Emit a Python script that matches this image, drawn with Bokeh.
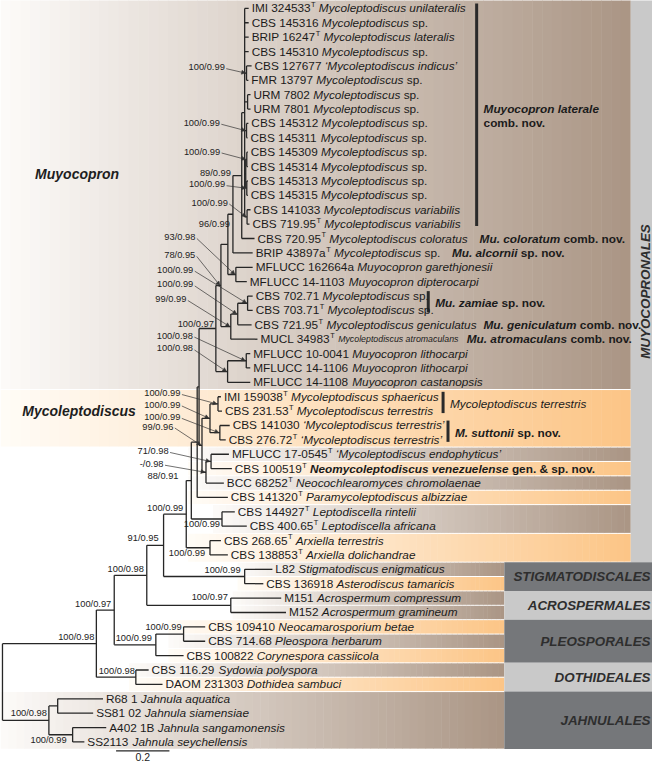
import numpy as np
from bokeh.plotting import figure
from bokeh.models import Range1d, ColumnDataSource, Arrow, NormalHead
from bokeh.core.properties import value, field
from bokeh.embed import file_html
from bokeh.resources import INLINE

# ======================= DATA =======================
strains = [
    "IMI 324533", "CBS 145316", "BRIP 16247", "CBS 145310", "CBS 127677", "FMR 13797",
    "URM 7802", "URM 7801", "CBS 145312", "CBS 145311", "CBS 145309", "CBS 145314",
    "CBS 145313", "CBS 145315", "CBS 141033", "CBS 719.95", "CBS 720.95", "BRIP 43897a",
    "MFLUCC 162664a", "MFLUCC 14-1103", "CBS 702.71", "CBS 703.71", "CBS 721.95", "MUCL 34983",
    "MFLUCC 10-0041", "MFLUCC 14-1106", "MFLUCC 14-1108", "IMI 159038", "CBS 231.53",
    "CBS 141030", "CBS 276.72", "MFLUCC 17-0545", "CBS 100519", "BCC 68252", "CBS 141320",
    "CBS 144927", "CBS 400.65", "CBS 268.65", "CBS 138853", "L82", "CBS 136918", "M151", "M152",
    "CBS 109410", "CBS 714.68", "CBS 100822", "CBS 116.29", "DAOM 231303", "R68 1", "SS81 02",
    "A402 1B", "SS2113"]
ex_type = [1, 0, 1, 0, 0, 0, 0, 0, 0, 0, 0, 0, 0, 0, 0, 1, 1, 1, 0, 0, 0, 1, 1, 1, 0, 0,
           0, 1, 1, 0, 1, 1, 1, 1, 1, 1, 1, 1, 1, 0, 0, 0, 0, 0, 0, 0, 0, 0, 0, 0, 0, 0]
species = [
    "Mycoleptodiscus unilateralis", "Mycoleptodiscus", "Mycoleptodiscus lateralis",
    "Mycoleptodiscus", "\u2018Mycoleptodiscus indicus\u2019", "Mycoleptodiscus",
    "Mycoleptodiscus", "Mycoleptodiscus", "Mycoleptodiscus", "Mycoleptodiscus",
    "Mycoleptodiscus", "Mycoleptodiscus", "Mycoleptodiscus", "Mycoleptodiscus",
    "Mycoleptodiscus variabilis", "Mycoleptodiscus variabilis", "Mycoleptodiscus coloratus",
    "Mycoleptodiscus", "Muyocopron garethjonesii", "Muyocopron dipterocarpi",
    "Mycoleptodiscus", "Mycoleptodiscus", "Mycoleptodiscus geniculatus",
    "Mycoleptodiscus atromaculans", "Muyocopron lithocarpi", "Muyocopron lithocarpi",
    "Muyocopron castanopsis", "Mycoleptodiscus sphaericus", "Mycoleptodiscus terrestris",
    "\u2018Mycoleptodiscus terrestris\u2019", "\u2018Mycoleptodiscus terrestris\u2019",
    "\u2018Mycoleptodiscus endophyticus\u2019", "Neomycoleptodiscus venezuelense",
    "Neocochlearomyces chromolaenae", "Paramycoleptodiscus albizziae",
    "Leptodiscella rintelii", "Leptodiscella africana", "Arxiella terrestris",
    "Arxiella dolichandrae", "Stigmatodiscus enigmaticus", "Asterodiscus tamaricis",
    "Acrospermum compressum", "Acrospermum gramineum", "Neocamarosporium betae",
    "Pleospora herbarum", "Corynespora cassiicola", "Sydowia polyspora", "Dothidea sambuci",
    "Jahnula aquatica", "Jahnula siamensiae", "Jahnula sangamonensis", "Jahnula seychellensis"]
sp_rows = [1, 3, 5, 6, 7, 8, 9, 10, 11, 12, 13, 17, 20, 21]

leaf_parent = ["L", "L", "L", "L", "L1", "L1", "L2", "L2", "L3", "L3", "L4", "L4", "L5", "L5",
               "L6", "L6", "N6", "N7", "GD", "GD", "ZA", "ZA", "ZG", "ZGM", "LI2", "LI2", "LI",
               "MT", "MT", "MS", "MS", "NN", "NN", "NB", "P3", "LE", "LE", "AR", "AR", "ST", "ST",
               "AC", "AC", "PL2", "PL2", "PL", "DO", "DO", "J1", "J1", "J2", "J2"]
leaf_length = [0.015, 0.015, 0.015, 0.015, 0.019, 0.007, 0.011, 0.011, 0.007, 0.004, 0.004,
               0.004, 0.004, 0.004, 0.013, 0.009, 0.048, 0.074, 0.063, 0.041, 0.019, 0.019,
               0.052, 0.100, 0.015, 0.015, 0.085, 0.011, 0.015, 0.037, 0.022, 0.067, 0.078,
               0.067, 0.115, 0.048, 0.093, 0.041, 0.067, 0.104, 0.070, 0.189, 0.207, 0.081,
               0.081, 0.104, 0.048, 0.100, 0.170, 0.133, 0.126, 0.044]

node_name = ["R", "J", "J1", "J2", "D", "DO", "N115", "PL", "PL2", "N148", "AC", "N165", "ST",
             "P5", "AR", "P4", "LE", "P3", "P1", "P2", "MY2", "MT", "MS", "NB", "NN", "MY", "LI",
             "LI2", "N9", "ZGM", "ZG", "ZA", "N8", "GD", "N7", "N6", "L", "L1", "L2", "L3", "N3",
             "L4", "L5", "L6"]
node_parent = [None, "R", "J", "J", "R", "D", "D", "N115", "PL", "N115", "N148", "N148", "N165",
               "N165", "P5", "P5", "P4", "P4", "P3", "P1", "P2", "MY2", "MY2", "P2", "NB", "P1",
               "MY", "LI", "MY", "N9", "ZGM", "ZG", "N9", "N8", "N8", "N7", "N6", "L", "L", "L",
               "L", "N3", "N3", "L"]
node_length = [0.0, 0.174, 0.033, 0.089, 0.352, 0.148, 0.067, 0.156, 0.104, 0.122, 0.315, 0.063,
               0.304, 0.085, 0.089, 0.019, 0.115, 0.022, 0.007, 0.011, 0.030, 0.030, 0.037,
               0.015, 0.019, 0.063, 0.044, 0.070, 0.019, 0.037, 0.026, 0.037, 0.026, 0.030,
               0.019, 0.033, 0.011, 0.007, 0.011, 0.007, 0.004, 0.004, 0.004, 0.009]

support_node = ["L1", "L3", "L4", "N3", "L5", "L6", "N6", "GD", "N9", "ZA", "ZG", "ZGM", "MY",
                "LI2", "LI", "MT", "MY2", "MS", "P2", "NN", "NB", "P4", "P5", "LE", "AR", "N165",
                "ST", "AC", "N148", "PL2", "PL", "N115", "DO", "D", "J", "J2"]
support_text = ["100/0.99", "100/0.99", "100/0.99", "89/0.99", "100/0.99", "100/0.99", "96/0.99",
                "93/0.98", "78/0.95", "100/0.99", "100/0.99", "99/0.99", "100/0.97", "100/0.98",
                "100/0.98", "100/0.99", "100/0.99", "100/0.99", "99/0.96", "71/0.98", "-/0.98",
                "88/0.91", "100/0.99", "100/0.99", "100/0.99", "91/0.95", "100/0.99", "100/0.97",
                "100/0.98", "100/0.99", "100/0.99", "100/0.97", "100/0.98", "100/0.98",
                "100/0.98", "100/0.99"]

orders = ["MUYOCOPRONALES", "STIGMATODISCALES", "ACROSPERMALES", "PLEOSPORALES",
          "DOTHIDEALES", "JAHNULALES"]
order_rows = [(0, 38), (39, 40), (41, 42), (43, 45), (46, 47), (48, 51)]

band_rows = [(0, 26), (27, 30), (31, 31), (32, 32), (33, 33), (34, 34), (35, 36), (37, 38),
             (39, 39), (40, 40), (41, 41), (42, 42), (43, 43), (44, 44), (45, 45), (46, 46),
             (47, 47), (48, 51)]
band_kind = ["brown", "orange", "brown", "orange", "brown", "orange", "brown", "orange",
             "brown", "orange", "brown", "brown", "orange", "brown", "orange", "brown",
             "orange", "brown"]

clade_names = ["Muyocopron", "Mycoleptodiscus"]

bar_rows = [(0, 15), (20, 21), (27, 28), (29, 30)]
bar_labels = [
    [[("Muyocopron laterale", "bold italic")], [("comb. nov.", "bold")]],
    [[("Mu. zamiae", "bold italic"), ("sp. nov.", "bold")]],
    [[("Mycoleptodiscus terrestris", "italic")]],
    [[("M. suttonii", "bold italic"), ("sp. nov.", "bold")]],
]
note_rows = [16, 17, 22, 23, 32]
note_segs = [
    [("Mu. coloratum", "bold italic"), ("comb. nov.", "bold")],
    [("Mu. alcornii", "bold italic"), ("sp. nov.", "bold")],
    [("Mu. geniculatum", "bold italic"), ("comb. nov.", "bold")],
    [("Mu. atromaculans", "bold italic"), ("comb. nov.", "bold")],
    [("gen. & sp. nov.", "bold")],
]
scale_len = 0.2
scale_text = "0.2"

# ======================= LAYOUT / STYLE =======================
W, H = 652, 765
XR = (0.0, 660.0)
YR = (781.0, 5.0)
KX = W / (XR[1] - XR[0])
KY = H / (YR[0] - YR[1])
X0, XS = 2.0, 270.0       # root position, px per substitution unit
Y0, YS = 13.0, 14.59      # first row position, row spacing
FONT = value("Liberation Sans")
FS, SUP, SMALL, SFS, OFS = 11.8, 7.4, 8.8, 9.3, 13.4
TXT = "#1b1b1b"
LINE = "#262626"

SUP_LAYOUT = [(-22, -6, 1), (-27, -8, 1), (-27, -8, 1), (-15, -1, 0), (-22, -4, 1),
              (-19.5, -14.6, 1), (-12, 49.4, 0), (-41, -38, 1), (-26, -31, 1), (-55, -34, 1),
              (-45, -30, 1), (-45, -28, 1), (-2, -5, 0), (-54, -25.5, 1), (-35, -23.4, 1),
              (-38, -11, 1), (-30, -14, 1), (-40, -16, 1), (-29, -19, 1), (-43, -10.6, 1),
              (-43, -8.6, 1), (-13, -5, 0), (-3, -6, 0), (-2, 5, 0), (-5, 5, 0), (-5, -7.5, 0),
              (-4, -7, 0), (-3, -8, 0), (-3, -6, 0), (-2, -7.5, 0), (-4, -6.5, 0), (-3, -6, 0),
              (-1, -6.5, 0), (-2, -7, 0), (-2, -7, 0), (-6, 5, 0)]
BAND_X0 = [0, 0, 190, 190, 190, 190, 215, 190, 240, 240, 235, 235, 170, 170, 170, 130, 130, 0]
BAND_COL = {"brown": ((253, 251, 249), (170, 149, 132)),
            "orange": ((255, 252, 247), (252, 197, 134))}
ORDER_COL = ["#c9c9c9", "#75777a", "#c9c9c9", "#75777a", "#c9c9c9", "#75777a"]
BAR_X = [482, 433, 448, 453]
NOTE_X = [485, 457, 482, 472, None]
CLADE_POS = [(35, 181), (22, 421)]

# ---------- font metrics (Arial / Liberation Sans) ----------
CH = " !\"#$%&'()*+,-./0123456789:;<=>?@ABCDEFGHIJKLMNOPQRSTUVWXYZ[\\]^_`abcdefghijklmnopqrstuvwxyz{|}~"
RW = ([278, 278, 355, 556, 556, 889, 667, 191, 333, 333, 389, 584, 278, 333, 278, 278] + [556] * 10 +
      [278, 278, 584, 584, 584, 556, 1015] +
      [667, 667, 722, 722, 667, 611, 778, 722, 278, 500, 667, 556, 833, 722, 778, 667, 778, 722,
       667, 611, 722, 667, 944, 667, 667, 611] + [278, 278, 278, 469, 556, 333] +
      [556, 556, 500, 556, 556, 278, 556, 556, 222, 222, 500, 222, 833, 556, 556, 556, 556, 333,
       500, 278, 556, 500, 722, 500, 500, 500] + [334, 260, 334, 584])
BW = ([278, 333, 474, 556, 556, 889, 722, 238, 333, 333, 389, 584, 278, 333, 278, 278] + [556] * 10 +
      [333, 333, 584, 584, 584, 611, 975] +
      [722, 722, 722, 722, 667, 611, 778, 722, 278, 556, 722, 611, 833, 722, 778, 667, 778, 722,
       667, 611, 722, 667, 944, 667, 667, 611] + [333, 278, 333, 584, 556, 333] +
      [556, 611, 556, 611, 556, 333, 611, 611, 278, 278, 556, 278, 889, 611, 611, 611, 611, 389,
       556, 333, 611, 556, 778, 556, 556, 500] + [389, 280, 389, 584])
REG = dict(zip(CH, RW)); REG.update({"\u2018": 222, "\u2019": 222})
BLD = dict(zip(CH, BW)); BLD.update({"\u2018": 278, "\u2019": 278})


def tw(t, style, size):
    tab = BLD if "bold" in style else REG
    return sum(tab.get(c, 556) for c in t) / 1000.0 * size / KX


def X(d):
    return X0 + XS * d


def Y(r):
    return Y0 + YS * r


# ---------- tree geometry ----------
parent, blen, children = {}, {}, {}
for n, pa, l in zip(node_name, node_parent, node_length):
    parent[n], blen[n] = pa, l
for i, (pa, l) in enumerate(zip(leaf_parent, leaf_length)):
    parent["t%d" % i], blen["t%d" % i] = pa, l
for n, pa in parent.items():
    if pa is not None:
        children.setdefault(pa, []).append(n)
depth, rowpos = {}, {}


def get_depth(n):
    if n not in depth:
        depth[n] = 0.0 if parent[n] is None else get_depth(parent[n]) + blen[n]
    return depth[n]


def get_row(n):
    if n not in rowpos:
        if n.startswith("t") and n[1:].isdigit():
            rowpos[n] = float(n[1:])
        else:
            ys = [get_row(c) for c in children[n]]
            rowpos[n] = (min(ys) + max(ys)) / 2.0
    return rowpos[n]


for n in parent:
    get_depth(n); get_row(n)

p = figure(width=W, height=H, x_range=Range1d(*XR), y_range=Range1d(*YR),
           output_backend="svg", toolbar_location=None, x_axis_type=None, y_axis_type=None,
           min_border=0)
p.outline_line_color = None
p.grid.visible = False
p.background_fill_color = "white"
p.border_fill_color = "white"

# ---------- background gradient bands ----------
ql, qr, qt, qb, qc = [], [], [], [], []
NS = 64
for (r0, r1), kind, x0 in zip(band_rows, band_kind, BAND_X0):
    top = 0.0 if r0 == 0 else Y(r0) - YS / 2 + 0.5
    bot = Y(r1) + YS / 2 - 0.5
    x1 = 638.0 if r1 <= 38 else 510.0
    c0, c1 = BAND_COL[kind]
    for k in range(NS):
        a = x0 + (x1 - x0) * k / NS
        b = x0 + (x1 - x0) * (k + 1) / NS + (0.5 if k < NS - 1 else 0)
        t = (k + 0.5) / NS
        col = tuple(int(round(c0[j] + (c1[j] - c0[j]) * t)) for j in range(3))
        ql.append(a); qr.append(b); qt.append(top); qb.append(bot)
        qc.append("#%02x%02x%02x" % col)
p.quad(left=ql, right=qr, top=qt, bottom=qb, fill_color=qc, line_color=None)

# ---------- order boxes ----------
ol, orr, ot, ob = [], [], [], []
for k, (r0, r1) in enumerate(order_rows):
    ol.append(638.0 if k == 0 else 510.0)
    orr.append(670.0)
    ot.append(0.0 if r0 == 0 else Y(r0) - YS / 2)
    ob.append(Y(r1) + YS / 2)
p.quad(left=ol, right=orr, top=ot, bottom=ob, fill_color=ORDER_COL, line_color=None)

# ---------- branches ----------
sx0, sx1, sy0, sy1 = [], [], [], []
for n, pa in parent.items():
    if pa is None:
        continue
    sx0.append(X(depth[pa])); sx1.append(X(depth[n]))
    sy0.append(Y(rowpos[n])); sy1.append(Y(rowpos[n]))
for n, ch in children.items():
    ys = [rowpos[c] for c in ch]
    sx0.append(X(depth[n])); sx1.append(X(depth[n]))
    sy0.append(Y(min(ys))); sy1.append(Y(max(ys)))
p.segment(x0=sx0, y0=sy0, x1=sx1, y1=sy1, line_color=LINE, line_width=1.3)

# ---------- texts ----------
T = dict(x=[], y=[], text=[], style=[], size=[], color=[])


def add(x, y, t, style="normal", size=FS, color=TXT):
    T["x"].append(x); T["y"].append(y); T["text"].append(t)
    T["style"].append(style); T["size"].append("%.1fpx" % size); T["color"].append(color)


leaf_end = {}
for i in range(len(strains)):
    x = X(depth["t%d" % i]) + 3.0
    y = Y(i)
    add(x, y, strains[i])
    x += tw(strains[i], "normal", FS)
    if ex_type[i]:
        add(x + 0.4, y - 3.6 / KY, "T", "normal", SUP)
        x += 0.4 + tw("T", "normal", SUP)
    x += tw(" ", "normal", FS)
    st = "bold italic" if i == 32 else "italic"
    sz = SMALL if i == 23 else FS
    add(x, y, species[i], st, sz)
    x += tw(species[i], st, sz)
    if i in sp_rows:
        x += tw(" ", "normal", FS)
        add(x, y, "sp.")
        x += tw("sp.", "normal", FS)
    leaf_end[i] = x

for row, segs, nx in zip(note_rows, note_segs, NOTE_X):
    x = leaf_end[row] + tw(" ", "bold", FS) if nx is None else max(nx, leaf_end[row] + 7)
    for t, st in segs:
        add(x, Y(row), t, st)
        x += tw(t + " ", st, FS)

bx0, by0, by1 = [], [], []
for (r0, r1), lines, bx in zip(bar_rows, bar_labels, BAR_X):
    bx0.append(bx); by0.append(Y(r0) - 5); by1.append(Y(r1) + 2)
    cy = (Y(r0) + Y(r1)) / 2
    for k, segs in enumerate(lines):
        y = cy + (k - (len(lines) - 1) / 2.0) * 14.0
        x = bx + 7
        for t, st in segs:
            add(x, y, t, st)
            x += tw(t + " ", st, FS)
p.segment(x0=bx0, x1=bx0, y0=by0, y1=by1, line_color="#2a2a2a", line_width=3)

for name, (cx, cy) in zip(clade_names, CLADE_POS):
    add(cx, cy, name, "bold italic", 14.0, "#1e1e1e")

src = ColumnDataSource(T)
p.text(x="x", y="y", text="text", source=src, text_font=FONT, text_font_style=field("style"),
       text_font_size=field("size"), text_color=field("color"), text_baseline="middle",
       text_align="left")

# ---------- support values ----------
S = dict(x=[], y=[], text=[])
A = dict(xs=[], ys=[], xe=[], ye=[])
for nd, txt, (dx, dy, arr) in zip(support_node, support_text, SUP_LAYOUT):
    nx, ny = X(depth[nd]), Y(rowpos[nd])
    S["x"].append(nx + dx); S["y"].append(ny + dy); S["text"].append(txt)
    if arr:
        A["xs"].append(nx + dx + 1.5); A["ys"].append(ny + dy + 1.5)
        A["xe"].append(nx - 1.0); A["ye"].append(ny)
p.text(x="x", y="y", text="text", source=ColumnDataSource(S), text_font=FONT,
       text_font_size="%.1fpx" % SFS, text_color="#222222", text_baseline="middle",
       text_align="right")
p.add_layout(Arrow(end=NormalHead(size=4, line_color="#333333", fill_color="#333333",
                                  line_width=0.5),
                   x_start="xs", y_start="ys", x_end="xe", y_end="ye",
                   source=ColumnDataSource(A), line_color="#333333", line_width=0.7))

# ---------- order labels ----------
O = dict(x=[], y=[], text=[])
for k, (name, (r0, r1)) in enumerate(zip(orders, order_rows)):
    if k == 0:
        continue
    O["x"].append(658.0); O["y"].append((Y(r0) + Y(r1)) / 2); O["text"].append(name)
p.text(x="x", y="y", text="text", source=ColumnDataSource(O), text_font=FONT,
       text_font_style="bold italic", text_font_size="%.1fpx" % OFS, text_color="#2e2e2e",
       text_baseline="middle", text_align="right")
r0, r1 = order_rows[0]
p.text(x=[653.0], y=[(Y(r0) + Y(r1)) / 2 + 10], text=[orders[0]], angle=np.pi / 2,
       text_font=FONT, text_font_style="bold italic", text_font_size="%.1fpx" % OFS,
       text_color="#2e2e2e", text_baseline="middle", text_align="center")

# ---------- scale bar ----------
sb_x, sb_y = 117.0, Y(len(strains) - 1) + 9
p.segment(x0=[sb_x], x1=[sb_x + XS * scale_len], y0=[sb_y], y1=[sb_y], line_color=LINE,
          line_width=1.3)
p.text(x=[sb_x + XS * scale_len / 2], y=[sb_y + 2], text=[scale_text], text_font=FONT,
       text_font_size="10.5px", text_color=TXT, text_baseline="top", text_align="center")

open("out.html", "w").write(file_html(p, INLINE, "Phylogeny"))
